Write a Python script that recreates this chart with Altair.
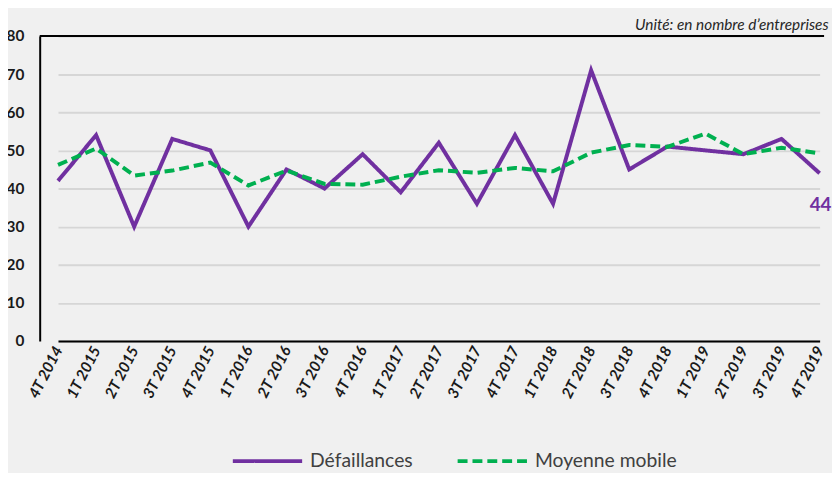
import altair as alt
import pandas as pd

quarters = ["4T 2014", "1T 2015", "2T 2015", "3T 2015", "4T 2015", "1T 2016", "2T 2016",
            "3T 2016", "4T 2016", "1T 2017", "2T 2017", "3T 2017", "4T 2017", "1T 2018",
            "2T 2018", "3T 2018", "4T 2018", "1T 2019", "2T 2019", "3T 2019", "4T 2019"]
defaillances = [42, 54, 30, 53, 50, 30, 45, 40, 49, 39, 52, 36, 54, 36, 71, 45, 51, 50, 49, 53, 44]
moyenne = [46.2, 50.5, 43.4, 44.7, 46.8, 40.8, 44.7, 41.2, 41.0, 43.1, 44.8, 44.1, 45.4, 44.5,
           49.4, 51.4, 50.9, 54.4, 49.0, 50.7, 49.2]
series = ["Défaillances", "Moyenne mobile"]
colors = ["#7030a0", "#00b050"]
dashes = [[1, 0], [10, 5]]
y_ticks = [0, 10, 20, 30, 40, 50, 60, 70, 80]

rows = []
for q, v in zip(quarters, defaillances):
    rows.append({"trimestre": q, "valeur": v, "serie": series[0]})
for q, v in zip(quarters, moyenne):
    rows.append({"trimestre": q, "valeur": v, "serie": series[1]})
df = pd.DataFrame(rows)
last = pd.DataFrame([{"trimestre": quarters[-1], "valeur": defaillances[-1]}])
top = pd.DataFrame({"valeur": [y_ticks[-1]]})

FONT = "Lato"

x_enc = alt.X("trimestre:N", sort=quarters,
              scale=alt.Scale(type="point", range=[18.5, 787.5], padding=0),
              axis=alt.Axis(title=None, labelAngle=-63, labelFontWeight="bold",
                            labelFontStyle="italic", labelFontSize=15.5, labelColor="#1a1a1a",
                            labelFont=FONT, ticks=False, domainColor="black", domainWidth=2,
                            labelPadding=6, grid=False, labelOverlap=False))
y_enc = alt.Y("valeur:Q", scale=alt.Scale(domain=[0, 80], nice=False),
              axis=alt.Axis(title=None, values=y_ticks, grid=True, gridColor="#d6d6d6",
                            gridWidth=2, ticks=False, domainColor="black", domainWidth=2,
                            labelFontWeight="bold", labelFontSize=15.5, labelColor="#1a1a1a",
                            labelFont=FONT, labelPadding=16, labelOverlap=False))

lines = alt.Chart(df).mark_line(strokeWidth=4).encode(
    x=x_enc,
    y=y_enc,
    color=alt.Color("serie:N", scale=alt.Scale(domain=series, range=colors),
                    legend=alt.Legend(title=None, orient="none", legendX=193, legendY=392,
                                      direction="horizontal", symbolType="stroke",
                                      symbolSize=4900, symbolStrokeWidth=4,
                                      labelFontSize=19.5, labelFont=FONT, labelColor="#404040",
                                      labelOffset=6, columnPadding=37, padding=0,
                                      labelLimit=300)),
    strokeDash=alt.StrokeDash("serie:N", scale=alt.Scale(domain=series, range=dashes),
                              legend=None),
)

frame = alt.Chart(top).mark_rule(color="black", strokeWidth=2).encode(y=y_enc)

label = alt.Chart(last).mark_text(fontWeight="bold", fontSize=19, color=colors[0], font=FONT,
                                  dy=32, dx=1).encode(
    x=x_enc, y=y_enc, text="valeur:Q")

chart = alt.layer(lines, frame, label).properties(
    width=792, height=308,
    title=alt.TitleParams("Unité: en nombre d’entreprises", anchor="end", fontStyle="italic",
                          fontWeight="normal", fontSize=15.5, font=FONT, color="#262626",
                          offset=-4, dx=-3),
    autosize=alt.AutoSizeParams(type="none"),
    padding={"left": 32, "top": 26, "right": 8, "bottom": 131},
    background="#f0f0f0",
).configure_view(stroke=None)

chart.save("out.html", embed_options={"renderer": "svg", "actions": False})
